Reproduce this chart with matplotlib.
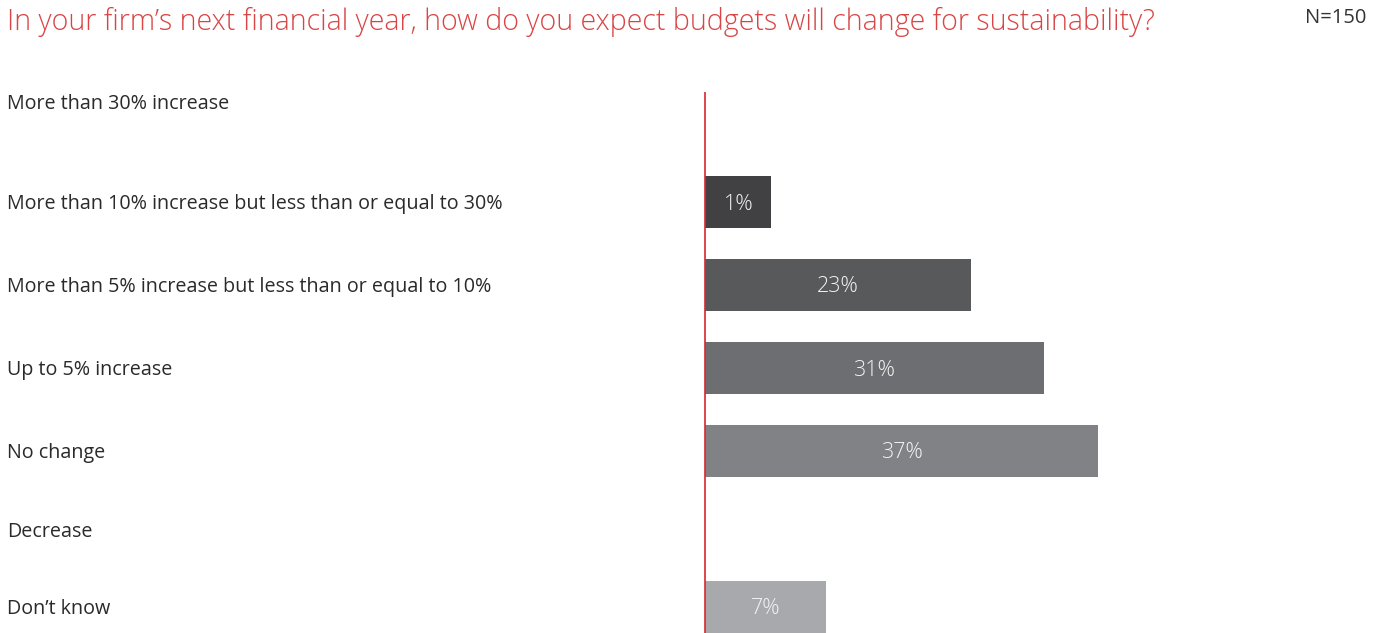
import matplotlib
matplotlib.use("Agg")
import matplotlib.pyplot as plt
import matplotlib.transforms as mtransforms

plt.rcParams['font.family'] = ['Open Sans', 'DejaVu Sans']

# ---- data ----
categories = [
    "More than 30% increase",
    "More than 10% increase but less than or equal to 30%",
    "More than 5% increase but less than or equal to 10%",
    "Up to 5% increase",
    "No change",
    "Decrease",
    "Don\u2019t know",
]
values = [None, 1, 23, 31, 37, None, 7]
value_labels = ["", "1%", "23%", "31%", "37%", "", "7%"]
title = "In your firm\u2019s next financial year, how do you expect budgets will change for sustainability?"
sample_note = "N=150"

# ---- layout / style ----
W, H = 1384, 633
row_y = [102, 202, 285, 368, 451, 530, 607]        # pixel rows (layout)
bar_colors = [None, "#414143", "#58595b", "#6d6e71", "#808285", None, "#a7a9ac"]
px_per_unit = 9.07
min_len = 6.33           # minimum bar stub in value units
zero_px = 705
bar_h = 52

fig = plt.figure(figsize=(W / 100, H / 100), dpi=100)
ax = fig.add_axes([0, 0, 1, 1])
ax.set_xlim(-zero_px / px_per_unit, (W - zero_px) / px_per_unit)
ax.set_ylim(H, 0)
ax.axis("off")

for y, v, c, lab in zip(row_y, values, bar_colors, value_labels):
    if v is None:
        continue
    w = v + min_len
    ax.barh(y, w, height=bar_h, left=0, color=c, edgecolor="none", zorder=2)
    ax.text(w / 2, y + 2, lab, ha="center", va="center", color="#f2f2f2",
            fontsize=15.5, fontweight="light", zorder=3)

ax.plot([0, 0], [92, H], color="#d7282f", lw=1.2, zorder=4, solid_capstyle="butt")

trans = mtransforms.blended_transform_factory(fig.transFigure, ax.transData)
for y, cat in zip(row_y, categories):
    ax.text(7 / W, y + 2, cat, transform=trans, ha="left", va="center",
            fontsize=14.2, color="#2a2a2a")

fig.text(7 / W, 1 - 22 / H, title, ha="left", va="center", fontsize=20.6,
         color="#d94545", fontweight="light")
fig.text(1366 / W, 1 - 18 / H, sample_note, ha="right", va="center",
         fontsize=14.5, color="#333333")

fig.savefig("out.png", dpi=100)
